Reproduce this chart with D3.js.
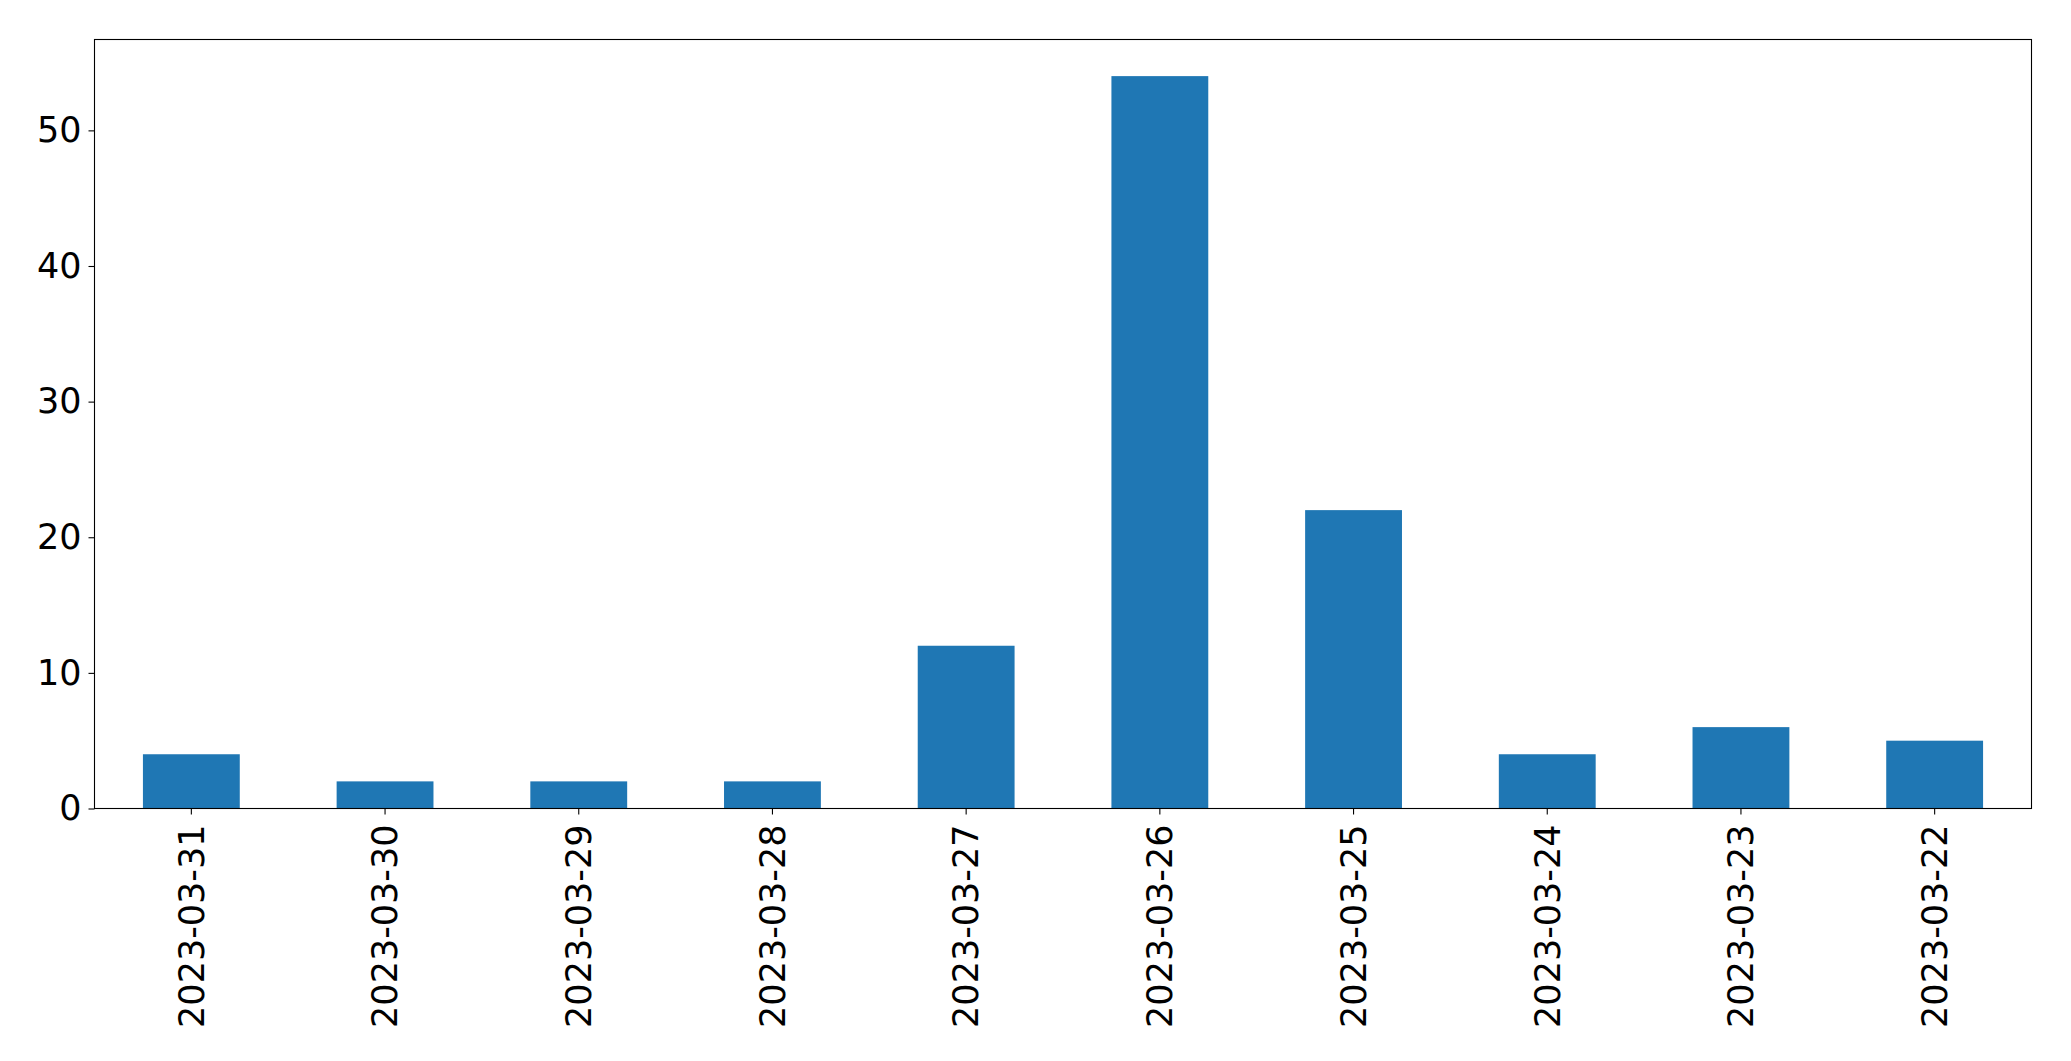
<!DOCTYPE html>
<html>
<head>
<meta charset="utf-8">
<script src="https://cdn.jsdelivr.net/npm/d3@7"></script>
<style>
  html, body { margin: 0; padding: 0; background: #fff; }
  svg { display: block; }
  text { font-family: "DejaVu Sans", sans-serif; fill: #000; }
</style>
</head>
<body>
<svg id="chart" width="2071" height="1061"></svg>
<script>
const categories = ["2023-03-31","2023-03-30","2023-03-29","2023-03-28","2023-03-27","2023-03-26","2023-03-25","2023-03-24","2023-03-23","2023-03-22"];
const values = [4, 2, 2, 2, 12, 54, 22, 4, 6, 5];
const yTicks = [0, 10, 20, 30, 40, 50];

const margin = {left: 94.5, top: 39.5, right: 2071 - 2031.5, bottom: 1061 - 808.5};
const W = 2071, H = 1061;
const svg = d3.select("#chart");
const iw = W - margin.left - margin.right, ih = H - margin.top - margin.bottom;
const g = svg.append("g").attr("transform", `translate(${margin.left},${margin.top})`);

const x = d3.scaleBand().domain(categories).range([0, iw]).paddingInner(0.5).paddingOuter(0.25);
const y = d3.scaleLinear().domain([0, d3.max(values) * 1.05]).range([ih, 0]);

g.selectAll("rect.bar").data(categories).join("rect")
  .attr("class", "bar")
  .attr("x", d => x(d))
  .attr("width", x.bandwidth())
  .attr("y", (d, i) => y(values[i]))
  .attr("height", (d, i) => y(0) - y(values[i]))
  .attr("fill", "#1f77b4");

const fs = 35;
const yAxis = g.append("g").call(d3.axisLeft(y).tickValues(yTicks).tickSize(6).tickPadding(7).tickFormat(d3.format("d")));
yAxis.select(".domain").remove();
yAxis.selectAll("text").style("font-size", fs + "px");
yAxis.selectAll("line").attr("stroke", "#000").attr("stroke-width", 1.1);

const xAxis = g.append("g").attr("transform", `translate(0,${ih})`).call(d3.axisBottom(x).tickSize(6).tickPadding(0));
xAxis.select(".domain").remove();
xAxis.selectAll("line").attr("stroke", "#000").attr("stroke-width", 1.1);
xAxis.selectAll("text")
  .style("font-size", fs + "px")
  .attr("transform", "rotate(-90)")
  .attr("text-anchor", "end")
  .attr("x", -16)
  .attr("y", 0)
  .attr("dy", "0.35em");

g.append("rect").attr("x", 0).attr("y", 0).attr("width", iw).attr("height", ih)
  .attr("fill", "none").attr("stroke", "#000").attr("stroke-width", 1.1);
</script>
</body>
</html>
